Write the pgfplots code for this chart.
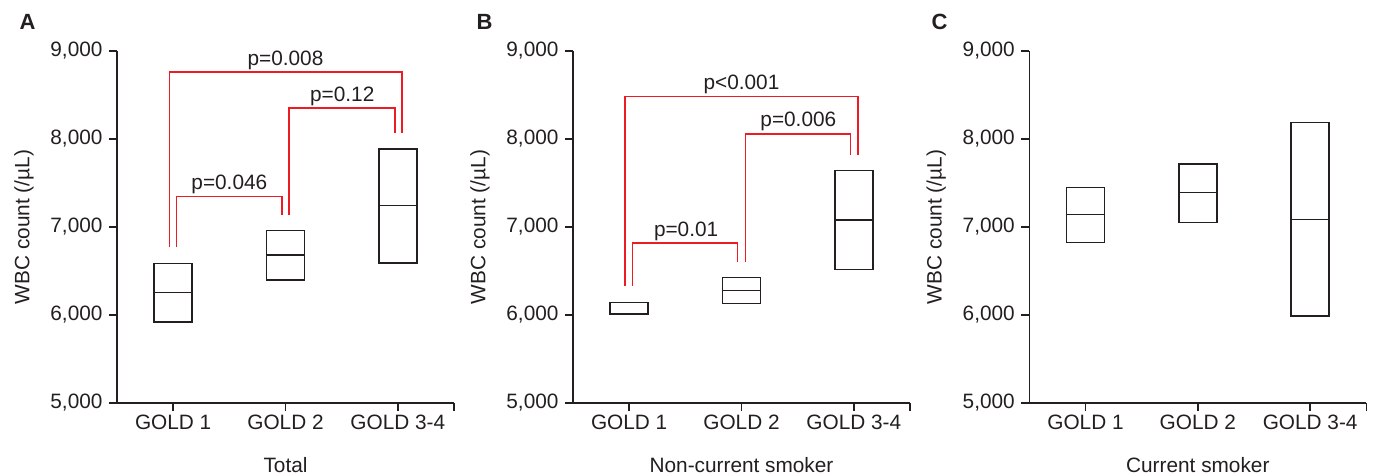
\documentclass[border=0pt]{standalone}
\usepackage{pgfplots}
\pgfplotsset{compat=1.18}
\usepackage{fontspec}
\setmainfont{Liberation Sans}
\definecolor{ink}{RGB}{35,31,32}
\definecolor{pred}{RGB}{237,28,36}
\newcommand{\fs}{\fontsize{20.8bp}{24bp}\selectfont}
\tikzset{plab/.style={anchor=base, yshift=7bp, font=\fs, text=ink}}
\pgfplotsset{
  panel/.style={
    scale only axis, width=337bp, height=352bp,
    xmin=-0.5, xmax=2.5, ymin=5000, ymax=9000,
    axis lines=left, axis line style={-, draw=ink, line width=1.5bp},
    xtick={0,1,2,2.5}, xticklabels={GOLD 1,GOLD 2,GOLD 3-4,{}},
    ytick={5000,6000,7000,8000,9000},
    yticklabels={{5,000},{6,000},{7,000},{8,000},{9,000}},
    tick align=outside, major tick length=8bp,
    tick style={draw=ink, line width=1.5bp},
    minor tick num=0,
    ticklabel style={font=\fs, text=ink},
    yticklabel style={xshift=-3bp},
    label style={font=\fs, text=ink},
    /pgf/number format/assume math mode=true,
    ylabel={WBC count (/µL)},
    ylabel style={at={(axis description cs:-0.26,0.5)}, anchor=base},
    xlabel style={at={(axis description cs:0.5,0)}, anchor=base, yshift=-69bp},
    clip=false,
  },
  gbox/.style={draw=ink, line width=1.6bp, mark=none},
  gmed/.style={draw=ink, line width=1.3bp, mark=none},
  brk/.style={pred, line width=1.3bp, mark=none},
}
\begin{document}
\begin{tikzpicture}
\useasboundingbox (0bp,0bp) rectangle (1375bp,476bp);
% Panel A
\begin{axis}[panel, at={(117bp,73bp)}, anchor=south west, xlabel={Total}]
\addplot[gbox] coordinates {(-0.17,5920) (0.17,5920) (0.17,6583) (-0.17,6583)} --cycle;
\addplot[gmed] coordinates {(-0.17,6254) (0.17,6254)};
\addplot[gbox] coordinates {(0.83,6398) (1.17,6398) (1.17,6962) (0.83,6962)} --cycle;
\addplot[gmed] coordinates {(0.83,6682) (1.17,6682)};
\addplot[gbox] coordinates {(1.83,6591) (2.17,6591) (2.17,7886) (1.83,7886)} --cycle;
\addplot[gmed] coordinates {(1.83,7242) (2.17,7242)};
\addplot[brk] coordinates {(-0.033,6769) (-0.033,8761) (2.036,8761) (2.036,8072)};
\addplot[brk] coordinates {(0.030,6769) (0.030,7349) (0.970,7349) (0.970,7136)};
\addplot[brk] coordinates {(1.030,7136) (1.030,8352) (1.974,8352) (1.974,8072)};
\node[plab] at (axis cs:1.0,8761) {p=0.008};
\node[plab] at (axis cs:1.505,8352) {p=0.12};
\node[plab] at (axis cs:0.5,7349) {p=0.046};
\end{axis}
% Panel B
\begin{axis}[panel, at={(573bp,73bp)}, anchor=south west, xlabel={Non-current smoker}]
\addplot[gbox] coordinates {(-0.17,6005) (0.17,6005) (0.17,6140) (-0.17,6140)} --cycle;
\addplot[gmed] coordinates {(-0.17,6020) (0.17,6020)};
\addplot[gbox] coordinates {(0.83,6129) (1.17,6129) (1.17,6424) (0.83,6424)} --cycle;
\addplot[gmed] coordinates {(0.83,6277) (1.17,6277)};
\addplot[gbox] coordinates {(1.83,6515) (2.17,6515) (2.17,7640) (1.83,7640)} --cycle;
\addplot[gmed] coordinates {(1.83,7080) (2.17,7080)};
\addplot[brk] coordinates {(-0.036,6330) (-0.036,8485) (2.036,8485) (2.036,7818)};
\addplot[brk] coordinates {(0.027,6330) (0.027,6818) (0.967,6818) (0.967,6606)};
\addplot[brk] coordinates {(1.033,6606) (1.033,8057) (1.970,8057) (1.970,7818)};
\node[plab] at (axis cs:1.0,8485) {p<0.001};
\node[plab] at (axis cs:1.506,8057) {p=0.006};
\node[plab] at (axis cs:0.507,6818) {p=0.01};
\end{axis}
% Panel C
\begin{axis}[panel, at={(1029.3bp,73bp)}, anchor=south west, xlabel={Current smoker}]
\addplot[gbox] coordinates {(-0.17,6826) (0.17,6826) (0.17,7451) (-0.17,7451)} --cycle;
\addplot[gmed] coordinates {(-0.17,7140) (0.17,7140)};
\addplot[gbox] coordinates {(0.83,7053) (1.17,7053) (1.17,7716) (0.83,7716)} --cycle;
\addplot[gmed] coordinates {(0.83,7390) (1.17,7390)};
\addplot[gbox] coordinates {(1.83,5989) (2.17,5989) (2.17,8186) (1.83,8186)} --cycle;
\addplot[gmed] coordinates {(1.83,7087) (2.17,7087)};
\end{axis}
\node[anchor=base west, font=\bfseries\fontsize{22bp}{24bp}\selectfont, text=ink] at (16bp,446bp) {A};
\node[anchor=base west, font=\bfseries\fontsize{22bp}{24bp}\selectfont, text=ink] at (473bp,446bp) {B};
\node[anchor=base west, font=\bfseries\fontsize{22bp}{24bp}\selectfont, text=ink] at (928bp,446bp) {C};
\end{tikzpicture}
\end{document}
